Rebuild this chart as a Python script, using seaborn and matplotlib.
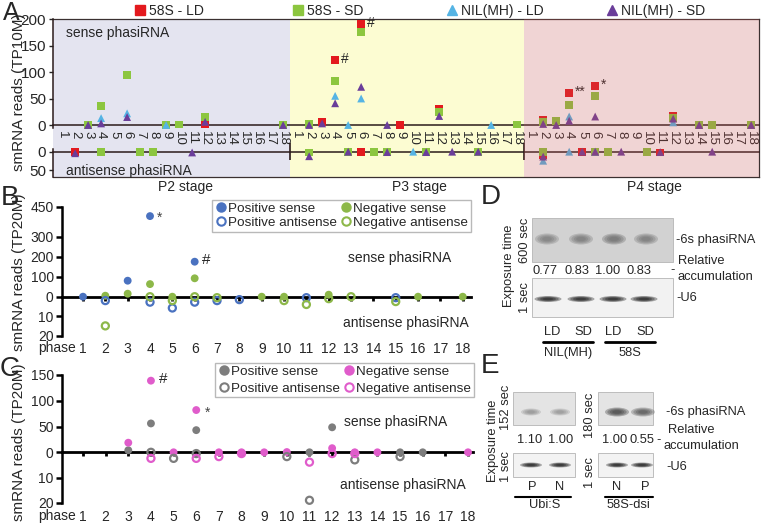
import numpy as np
import pandas as pd
import seaborn as sns
import matplotlib.pyplot as plt
from matplotlib.lines import Line2D
from matplotlib.patches import Rectangle, Ellipse

sns.set_theme(style='white', context='notebook')
plt.rcParams['font.family'] = ['Liberation Sans', 'DejaVu Sans']

n = np.nan
W, H = 762, 527
phases = list(range(1, 19))
stages = ['P2 stage', 'P3 stage', 'P4 stage']

# ---- panel A: reads (TP10M), 18 phases for P2, P3, P4 (nan = not shown)
ld58_sense = ([n, n, n, n, n, n, n, n, n, n, n, 2, n, n, n, n, n, n]
              + [n, n, 6, 122, n, 190, n, n, 0, n, n, 31, n, n, n, n, n, n]
              + [n, 10, n, 60, n, 74, n, n, n, n, n, 18, n, n, n, n, n, n])
sd58_sense = ([n, n, 0, 36, n, 95, n, n, 0, 1, n, 15, n, n, n, n, n, 0]
              + [n, 2, n, 83, n, 175, n, n, n, n, n, 25, n, n, n, n, n, 1]
              + [n, 5, 8, 38, n, 55, n, n, n, n, n, 14, n, 0, 0, n, n, 0])
ldnil_sense = ([n, n, n, 13, n, 22, n, n, 0, n, n, n, n, n, n, n, n, n]
               + [n, n, n, 55, 0, 50, n, n, n, n, n, n, n, n, n, 0, n, n]
               + [n, n, n, 16, n, n, n, n, n, n, n, 5, n, n, n, n, n, n])
sdnil_sense = ([n, n, 0, 3, n, 15, n, n, n, n, n, 6, n, n, n, n, n, 0]
               + [n, 0, 3, 41, n, 72, n, 0, n, n, n, 17, n, n, n, n, n, n]
               + [n, 2, 0, 8, n, 16, n, n, n, n, n, 12, n, 0, n, n, n, 0])

ld58_anti = ([n, 0, n, n, n, n, n, n, n, n, n, n, n, n, n, n, n, n]
             + [n, n, n, n, n, 0, n, 1, n, n, n, n, n, n, n, n, n, n]
             + [n, 10, n, n, 0, n, n, n, n, n, 2, n, n, n, n, n, n, n])
sd58_anti = ([n, n, n, 0, n, n, 0, 0, n, n, n, n, n, n, n, n, n, n]
             + [n, 2, n, n, 0, n, 0, 0, n, n, 0, n, n, n, 0, n, n, n]
             + [n, 0, n, n, n, 0, 0, n, n, 0, n, n, n, n, n, n, n, n])
ldnil_anti = ([n] * 18
              + [n, n, n, n, n, n, n, n, n, 0, n, n, n, n, n, n, n, n]
              + [n, 24, n, 0, n, 0, n, n, n, n, n, n, n, n, n, n, n, n])
sdnil_anti = ([n, 4, n, n, n, n, n, n, n, n, 2, n, n, n, n, n, n, n]
              + [n, 12, n, n, 0, n, n, 1, n, n, 1, n, 0, n, 0, n, n, n]
              + [n, 13, n, n, 0, 0, n, 0, n, n, 1, n, n, n, 0, n, n, n])

a_lines = ['58S - LD', '58S - SD', 'NIL(MH) - LD', 'NIL(MH) - SD']
a_colors = ['#e3191e', '#8cc63f', '#55b4e4', '#6a3d9a']
a_markers = ['s', 's', '^', '^']

# ---- panel B: Positive / Negative (TP20M)
b_pos_sense = [0, n, 80, 403, n, 175, n, n, n, n, n, n, n, n, n, n, n, n]
b_neg_sense = [n, 5, 15, 63, 0, 92, n, n, 0, 0, n, 10, n, n, n, 0, n, 0]
b_pos_anti = [n, 2, n, 2.8, 5.8, 2.8, 2, 1.5, n, n, 0.5, n, n, n, 0.5, n, n, n]
b_neg_anti = [n, 15, n, 0, 2, 0, 0.5, n, n, 2, 4, 1, 0, n, 2.5, n, n, n]

# ---- panel C
c_pos_sense = [n, n, 4, 56, n, 43, n, n, n, n, 0, 48.5, n, n, 0, 0, n, n]
c_neg_sense = [n, n, 18.6, 139, 0, 82, 0, 0, 0, 0.5, n, 8, 0, 0, n, n, n, 0]
c_pos_anti = [n, n, n, 0, 2.4, 0.5, n, n, n, 1.7, 19, n, 3, n, 1.7, n, n, n]
c_neg_anti = [n, n, n, 2.4, n, 2.4, 1.7, 0.5, n, n, 3.9, 0.5, 0.5, n, n, n, n, n]

kinds = ['Positive sense', 'Positive antisense', 'Negative sense', 'Negative antisense']
b_colors = {'Positive': '#4a72c0', 'Negative': '#8db849'}
c_colors = {'Positive': '#7d7d7d', 'Negative': '#e05ccb'}

# ---- panels D / E (northern blots)
d_lanes = ['LD', 'SD', 'LD', 'SD']
d_groups = ['NIL(MH)', '58S']
d_rel = [0.77, 0.83, 1.00, 0.83]
e_left_lanes = ['P', 'N']
e_right_lanes = ['N', 'P']
e_left_rel = [1.10, 1.00]
e_right_rel = [1.00, 0.55]

fig = plt.figure(figsize=(W / 100, H / 100), dpi=100)


def add_ax(x0, y0, x1, y1):
    return fig.add_axes([x0 / W, 1 - y1 / H, (x1 - x0) / W, (y1 - y0) / H])


def long_a(series):
    parts = [pd.DataFrame({'pos': np.arange(54), 'reads': v, 'line': name})
             for name, v in zip(a_lines, series)]
    return pd.concat(parts).dropna()


# ================= panel A =================
xa = (-0.7, 53.6)
bounds = [-0.7, 17.55, 35.5, 53.6]
bg = add_ax(53, 19, 759, 177)
bg.set_xlim(xa)
bg.axvspan(bounds[0], bounds[1], color='#e4e4f0', lw=0)
bg.axvspan(bounds[1], bounds[2], color='#fcfcd2', lw=0)
bg.set_xticks([])
bg.set_yticks([])
bg.spines['left'].set_visible(False)
for side in ['top', 'right', 'bottom']:
    bg.spines[side].set_color('#3a3030')
    bg.spines[side].set_linewidth(0.9)

pal = dict(zip(a_lines, a_colors))
mk = dict(zip(a_lines, a_markers))

up = add_ax(53, 19, 759, 128)
up.patch.set_alpha(0)
sns.scatterplot(data=long_a([ld58_sense, sd58_sense, ldnil_sense, sdnil_sense]),
                x='pos', y='reads', hue='line', style='line', hue_order=a_lines,
                style_order=a_lines, palette=pal, markers=mk, s=32, linewidth=0,
                legend=False, ax=up, clip_on=False, zorder=3)
up.set_xlim(xa)
up.set_ylim(-5.66, 200)
up.set(xlabel='', ylabel='')
up.spines[['top', 'right']].set_visible(False)
up.spines['bottom'].set_position(('data', 0))
for side in ['left', 'bottom']:
    up.spines[side].set_color('#2b1b1b')
    up.spines[side].set_linewidth(1.1)
up.set_xticks(range(54))
up.set_xticklabels([str(p) for s in stages for p in phases], rotation=-90, fontsize=9.5)
up.tick_params(axis='x', direction='inout', length=6, width=1, pad=1, color='#2b1b1b')
up.set_yticks([0, 50, 100, 150, 200])
up.tick_params(axis='y', direction='out', length=3, width=1, labelsize=11, pad=2, left=True)

lo = add_ax(53, 141, 759, 177)
lo.patch.set_alpha(0)
sns.scatterplot(data=long_a([ld58_anti, sd58_anti, ldnil_anti, sdnil_anti]),
                x='pos', y='reads', hue='line', style='line', hue_order=a_lines,
                style_order=a_lines, palette=pal, markers=mk, s=32, linewidth=0,
                legend=False, ax=lo, clip_on=False, zorder=3)
lo.set_xlim(xa)
lo.set_ylim(67.3, -28.5)
lo.set(xlabel='', ylabel='')
lo.spines[['top', 'right']].set_visible(False)
lo.spines['bottom'].set_position(('data', 0))
lo.spines['left'].set_bounds(-8, 67.3)
for side in ['left', 'bottom']:
    lo.spines[side].set_color('#2b1b1b')
    lo.spines[side].set_linewidth(1.1)
lo.set_xticks(range(54))
lo.set_xticklabels([])
lo.tick_params(axis='x', direction='inout', length=6, width=1, color='#2b1b1b')
lo.set_yticks([0, 50])
lo.tick_params(axis='y', direction='out', length=3, width=1, labelsize=11, pad=2, left=True)
lo.vlines(bounds[1:3], -22, 22, color='#2b1b1b', lw=1.2)

for pos, mark in [(21, '#'), (23, '#'), (39, '**'), (41, '*')]:
    up.annotate(mark, (pos, ld58_sense[pos]), xytext=(4, 1), textcoords='offset points',
                ha='left', va='center', fontsize=10)

centers = [169, 328, 495, 656]
for name, col, m, cx in zip(a_lines, a_colors, a_markers, centers):
    h = Line2D([], [], ls='', marker=m, color=col, ms=7)
    fig.legend([h], [name], loc='center', bbox_to_anchor=(cx / W, 1 - 11 / H),
               frameon=False, fontsize=10, handletextpad=0.25, handlelength=0.8,
               borderpad=0, borderaxespad=0)


# ================= panels B and C =================
def long_bc(ps, ns, pa, na):
    parts = []
    for kind, v in zip(kinds, [ps, pa, ns, na]):
        parts.append(pd.DataFrame({'phase': phases, 'reads': v, 'kind': kind}))
    return pd.concat(parts).dropna()


def phase_panel(df, colors, x1, y_top, y_zero, y_bot, xlim, smax, sticks, pad):
    axs = add_ax(62, y_top, x1, y_zero)
    axa = add_ax(62, y_zero, x1, y_bot)
    for ax in (axs, axa):
        ax.patch.set_alpha(0)
        ax.set_xlim(xlim)
        ax.spines[['top', 'right']].set_visible(False)
        ax.spines['left'].set_color('black')
        ax.spines['left'].set_linewidth(1.8)
        ax.tick_params(axis='y', direction='out', length=4, width=1.8, labelsize=10,
                       pad=2, left=True, color='black')
    sense = df[df['kind'].str.endswith(' sense')]
    pal_s = {k: colors[k.split()[0]] for k in kinds}
    sns.scatterplot(data=sense, x='phase', y='reads', hue='kind',
                    hue_order=['Positive sense', 'Negative sense'], palette=pal_s,
                    s=32, linewidth=0, legend=False, ax=axs, clip_on=False, zorder=3)
    for kind in ['Positive antisense', 'Negative antisense']:
        c = colors[kind.split()[0]]
        sns.scatterplot(data=df[df['kind'] == kind], x='phase', y='reads', color=c,
                        facecolor='none', edgecolor=c, linewidth=1.6, s=26,
                        legend=False, ax=axa, clip_on=False, zorder=3)
    axs.set_ylim(0, smax)
    axs.set_yticks(sticks)
    axs.set_xticks(phases)
    axs.set_xticklabels([])
    axs.spines['bottom'].set_color('black')
    axs.spines['bottom'].set_linewidth(2)
    axs.tick_params(axis='x', direction='out', length=3, width=2, color='black', bottom=True)
    axa.set_ylim(20.2, 0)
    axa.set_yticks([10, 20])
    axa.spines['bottom'].set_visible(False)
    axa.set_xticks(phases)
    axa.tick_params(axis='x', length=0, labelsize=10, pad=pad)
    for ax in (axs, axa):
        ax.set(xlabel='', ylabel='')
    return axs, axa


def legend_bc(colors, x, y, spacing):
    hs = []
    for kind in kinds:
        c = colors[kind.split()[0]]
        fc = c if kind.endswith(' sense') else 'none'
        hs.append(Line2D([], [], ls='', marker='o', mfc=fc, mec=c, mew=1.5, ms=6))
    fig.legend(hs, kinds, ncol=2, loc='upper left', bbox_to_anchor=(x / W, 1 - y / H),
               frameon=True, fancybox=False, edgecolor='#a8a8a8', fontsize=9.7,
               handletextpad=0.0, handlelength=1.0, columnspacing=0.2,
               labelspacing=spacing, borderpad=0.2, borderaxespad=0)


bs, ba = phase_panel(long_bc(b_pos_sense, b_neg_sense, b_pos_anti, b_neg_anti), b_colors,
                     471, 206.7, 296.7, 336, (0.06, 18.37), 450, [0, 100, 200, 300, 450], 4)
bs.annotate('*', (4, b_pos_sense[3]), xytext=(5, -1), textcoords='offset points',
            ha='left', va='center', fontsize=10, color='#444444')
bs.annotate('#', (6, b_pos_sense[5]), xytext=(5, 1), textcoords='offset points',
            ha='left', va='center', fontsize=11)
legend_bc(b_colors, 212, 200, 0.1)

cs, ca = phase_panel(long_bc(c_pos_sense, c_neg_sense, c_pos_anti, c_neg_anti), c_colors,
                     473, 375, 452.3, 503.3, (0.073, 18.22), 150, [0, 50, 100, 150], 4.5)
cs.annotate('#', (4, c_neg_sense[3]), xytext=(6, 1), textcoords='offset points',
            ha='left', va='center', fontsize=11)
cs.annotate('*', (6, c_neg_sense[5]), xytext=(6, -2), textcoords='offset points',
            ha='left', va='center', fontsize=10, color='#444444')
legend_bc(c_colors, 215, 363, 0.3)

# ================= overlay: text and blots =================
ov = fig.add_axes([0, 0, 1, 1])
ov.set_xlim(0, W)
ov.set_ylim(H, 0)
ov.axis('off')
# P4 tint laid over the markers
ov.add_patch(Rectangle((523.6, 19), 759 - 523.6, 158, facecolor=(0.78, 0.33, 0.33),
                       alpha=0.25, lw=0))

for s, x in zip(stages, [185, 419, 654]):
    ov.text(x, 187, s, ha='center', va='center', fontsize=10)
ov.text(66, 33, 'sense phasiRNA', ha='left', va='center', fontsize=10)
ov.text(66, 171, 'antisense phasiRNA', ha='left', va='center', fontsize=10)
ov.text(19, 92, 'smRNA reads (TP10M)', rotation=90, ha='center', va='center', fontsize=11)
ov.text(19, 272, 'smRNA reads (TP20M)', rotation=90, ha='center', va='center', fontsize=11)
ov.text(19, 442, 'smRNA reads (TP20M)', rotation=90, ha='center', va='center', fontsize=11)
ov.text(400, 258, 'sense phasiRNA', ha='center', va='center', fontsize=10)
ov.text(406, 323, 'antisense phasiRNA', ha='center', va='center', fontsize=10)
ov.text(396, 422, 'sense phasiRNA', ha='center', va='center', fontsize=10)
ov.text(403, 485, 'antisense phasiRNA', ha='center', va='center', fontsize=10)
ov.text(76, 348, 'phase', ha='right', va='center', fontsize=10)
ov.text(76, 516, 'phase', ha='right', va='center', fontsize=10)

for letter, x, y, fs in [('A', 11, 13, 18), ('B', 10, 198, 20), ('C', 10, 369, 20),
                         ('D', 491, 197, 20), ('E', 490, 366, 20)]:
    ov.text(x, y, letter, ha='center', va='center', fontsize=fs)


def blot(x0, y0, x1, y1, face, lanes, by, bw, bh, dark, strength):
    ov.add_patch(Rectangle((x0, y0), x1 - x0, y1 - y0, facecolor=face,
                           edgecolor='#b5b5b5', lw=0.6))
    for cx, a in zip(lanes, strength):
        for k in range(4):
            f = 1 - 0.2 * k
            ov.add_patch(Ellipse((cx, by), bw * f, bh * f, color=dark, alpha=a / 3, lw=0))


fs_blot = 9.3
# D
blot(532, 218, 673, 262, '#d2d2d2', [547, 581, 614, 646], 239, 24, 11, '#6a6a6a', d_rel)
blot(532, 278, 673, 317, '#f2f2f2', [548, 581, 613, 644], 299, 27, 6, '#111111', [1, 1, 1, 1])
for v, x in zip(d_rel, [545, 577, 608, 639]):
    ov.text(x, 271, f'{v:.2f}', ha='center', va='center', fontsize=fs_blot)
for lab, x in zip(d_lanes, [552, 583, 613, 645]):
    ov.text(x, 332, lab, ha='center', va='center', fontsize=fs_blot)
ov.plot([543, 593], [342, 342], color='black', lw=2)
ov.plot([605, 655], [342, 342], color='black', lw=2)
ov.text(568, 353, d_groups[0], ha='center', va='center', fontsize=fs_blot)
ov.text(630, 353, d_groups[1], ha='center', va='center', fontsize=fs_blot)
ov.text(676, 240, '-6s phasiRNA', ha='left', va='center', fontsize=fs_blot)
ov.text(678, 261, 'Relative', ha='left', va='center', fontsize=fs_blot)
ov.text(677, 277, 'accumulation', ha='left', va='center', fontsize=fs_blot)
ov.text(670, 270, '-', ha='left', va='center', fontsize=fs_blot)
ov.text(676, 298, '-U6', ha='left', va='center', fontsize=fs_blot)
ov.text(509, 266, 'Exposure time', rotation=90, ha='center', va='center', fontsize=fs_blot)
ov.text(525, 240, '600 sec', rotation=90, ha='center', va='center', fontsize=fs_blot)
ov.text(525, 298, '1 sec', rotation=90, ha='center', va='center', fontsize=fs_blot)

# E
blot(513, 392, 575, 425, '#e4e4e4', [531, 560], 412, 20, 7, '#7a7a7a', [0.7, 0.65])
blot(513, 453, 575, 477, '#f3f3f3', [531, 560], 465, 22, 5, '#111111', [1, 1])
blot(598, 392, 653, 425, '#e4e4e4', [617, 643], 412, 24, 9, '#3a3a3a', [1.0, 0.8])
blot(598, 453, 653, 477, '#f3f3f3', [617, 642], 465, 22, 5, '#111111', [1, 1])
for v, x in zip(e_left_rel + e_right_rel, [530, 561, 615, 642]):
    ov.text(x, 440, f'{v:.2f}', ha='center', va='center', fontsize=fs_blot)
for lab, x in zip(e_left_lanes + e_right_lanes, [532, 560, 617, 645]):
    ov.text(x, 487, lab, ha='center', va='center', fontsize=fs_blot)
ov.plot([515, 571], [497, 497], color='black', lw=1.5)
ov.plot([605, 653], [497, 497], color='black', lw=1.5)
ov.text(545, 505, 'Ubi:S', ha='center', va='center', fontsize=fs_blot)
ov.text(628, 505, '58S-dsi', ha='center', va='center', fontsize=fs_blot)
ov.text(666, 412, '-6s phasiRNA', ha='left', va='center', fontsize=fs_blot)
ov.text(668, 430, 'Relative', ha='left', va='center', fontsize=fs_blot)
ov.text(663, 446, 'accumulation', ha='left', va='center', fontsize=fs_blot)
ov.text(656, 440, '-', ha='left', va='center', fontsize=fs_blot)
ov.text(666, 467, '-U6', ha='left', va='center', fontsize=fs_blot)
ov.text(493, 441, 'Exposure time', rotation=90, ha='center', va='center', fontsize=fs_blot)
ov.text(506, 407, '152 sec', rotation=90, ha='center', va='center', fontsize=fs_blot)
ov.text(506, 467, '1 sec', rotation=90, ha='center', va='center', fontsize=fs_blot)
ov.text(590, 415, '180 sec', rotation=90, ha='center', va='center', fontsize=fs_blot)
ov.text(590, 473, '1 sec', rotation=90, ha='center', va='center', fontsize=fs_blot)

fig.savefig('out.png', dpi=100)
